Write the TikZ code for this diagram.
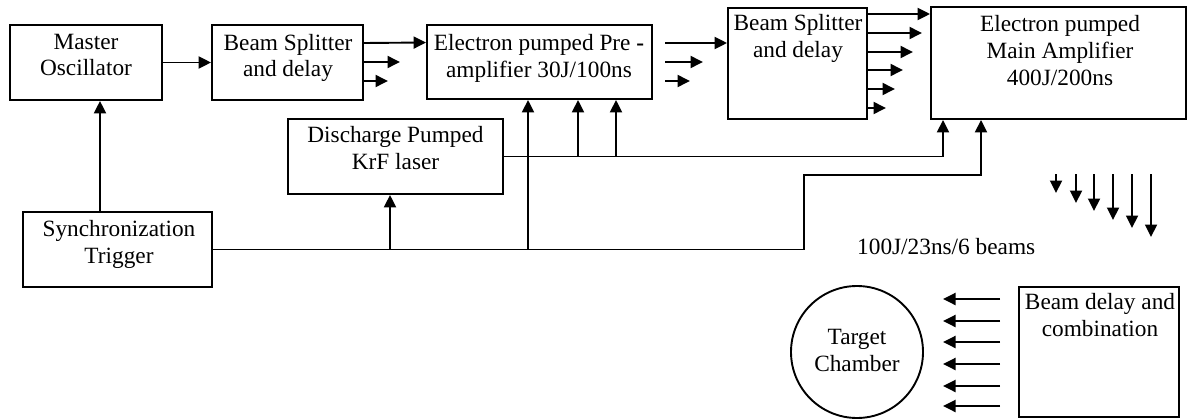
\documentclass[tikz,border=0pt]{standalone}
\usepackage{fontspec}
\setmainfont{Liberation Serif}
\usetikzlibrary{arrows.meta}
\tikzset{
  box/.style={draw, line width=1.9pt, rectangle, inner sep=0pt},
  circ/.style={draw, line width=1.9pt, circle, inner sep=0pt, minimum size=132pt},
  txt/.style={align=center, inner sep=0pt, anchor=north, font=\fontsize{23.3}{26.8}\selectfont},
  arr/.style={line width=1.9pt, -{Triangle[length=12.5pt,width=12pt]}},
  ln/.style={line width=1.9pt},
}
\begin{document}
\begin{tikzpicture}[x=1pt,y=-1pt]
\useasboundingbox (0,0) rectangle (1188,420);
% boxes
\node[box, minimum width=152pt, minimum height=75pt] (mo) at (86,62.5) {};
\node[box, minimum width=151pt, minimum height=75pt] (bs1) at (287.5,62.5) {};
\node[box, minimum width=225pt, minimum height=74pt] (pre) at (539.5,62) {};
\node[box, minimum width=139pt, minimum height=111pt] (bs2) at (797.5,63.5) {};
\node[box, minimum width=255pt, minimum height=112pt] (main) at (1058.5,63) {};
\node[box, minimum width=215pt, minimum height=75pt] (dis) at (395.5,156.5) {};
\node[box, minimum width=189pt, minimum height=75pt] (sync) at (117.5,249.5) {};
\node[box, minimum width=160pt, minimum height=130pt] (bd) at (1099,352) {};
\node[circ] (tc) at (857,352) {};
% texts
\node[txt] (tmo) at (86,33.7) {Master\\Oscillator};
\node[txt] (tbs1) at (288,33.7) {Beam Splitter\\and delay};
\node[txt] (tpre) at (539,34.2) {Electron pumped Pre {\bfseries -}\\amplifier 30J/100ns};
\node[txt] (tbs2) at (798,14.2) {Beam Splitter\\and delay};
\node[txt] (tmain) at (1060,15.2) {Electron pumped\\Main Amplifier\\400J/200ns};
\node[txt] (tdis) at (395.5,126.2) {Discharge Pumped\\KrF laser};
\node[txt] (tsync) at (119,220.2) {Synchronization\\Trigger};
\node[txt] (ttc) at (857,329.2) {Target\\Chamber};
\node[txt] (tbd) at (1100,293.2) {Beam delay and\\combination};
\node[txt, anchor=base west] (tbeams) at (857,254) {100J/23ns/6 beams};
% master oscillator -> beam splitter
\draw[arr] (mo.east) -- (bs1.west);
% beam splitter 1 outputs
\coordinate (b1o2) at (400,62);
\coordinate (b1o3) at (388,81);
\draw[arr] ([yshift=19.5pt]bs1.east) -- ([yshift=19.5pt]pre.west);
\draw[arr] (bs1.east |- b1o2) -- (b1o2);
\draw[arr] (bs1.east |- b1o3) -- (b1o3);
% pre-amplifier outputs
\coordinate (p1s) at (665,43);
\coordinate (p2s) at (665,62); \coordinate (p2e) at (703,62);
\coordinate (p3s) at (665,81); \coordinate (p3e) at (690,81);
\draw[arr] (p1s) -- (bs2.west |- p1s);
\draw[arr] (p2s) -- (p2e);
\draw[arr] (p3s) -- (p3e);
% beam splitter 2 outputs
\coordinate (b2o0) at (900,14);
\draw[arr] (bs2.east |- b2o0) -- (main.west |- b2o0);
\foreach \y/\x [count=\i] in {33/922,52/913,70/903,89/895,108/886} {
  \coordinate (b2o\i) at (\x,\y);
  \draw[arr] (bs2.east |- b2o\i) -- (b2o\i);
}
% synchronization trigger
\coordinate (smx) at (100,150);
\draw[arr] (sync.north -| smx) -- (mo.south -| smx);
\coordinate (j1) at (390,249.5);
\coordinate (j2) at (528,249.5);
\coordinate (k1) at (804,249.5);
\coordinate (k2) at (804,175);
\coordinate (k3) at (981,175);
\draw[arr] (sync.east) -- (k1) -- (k2) -- (k3) -- (main.south -| k3);
\draw[arr] (j1) -- (dis.south -| j1);
\draw[arr] (j2) -- (pre.south -| j2);
% discharge pumped laser
\coordinate (d1) at (578,156.5);
\coordinate (d2) at (616,156.5);
\coordinate (d3) at (943,156.5);
\draw[arr] (dis.east) -- (d3) -- (main.south -| d3);
\draw[arr] (d1) -- (pre.south -| d1);
\draw[arr] (d2) -- (pre.south -| d2);
% down arrows (6 beams)
\foreach \x/\y [count=\i] in {1056/193,1076/203,1094/211,1113/220,1132/228,1151/237} {
  \coordinate (ds\i) at (\x,174);
  \coordinate (de\i) at (\x,\y);
  \draw[arr] (ds\i) -- (de\i);
}
% beams to target chamber
\foreach \y [count=\i] in {299,321,342,364,386,406} {
  \coordinate (ls\i) at (1000,\y);
  \coordinate (le\i) at (943,\y);
  \draw[arr] (ls\i) -- (le\i);
}
\end{tikzpicture}
\end{document}
